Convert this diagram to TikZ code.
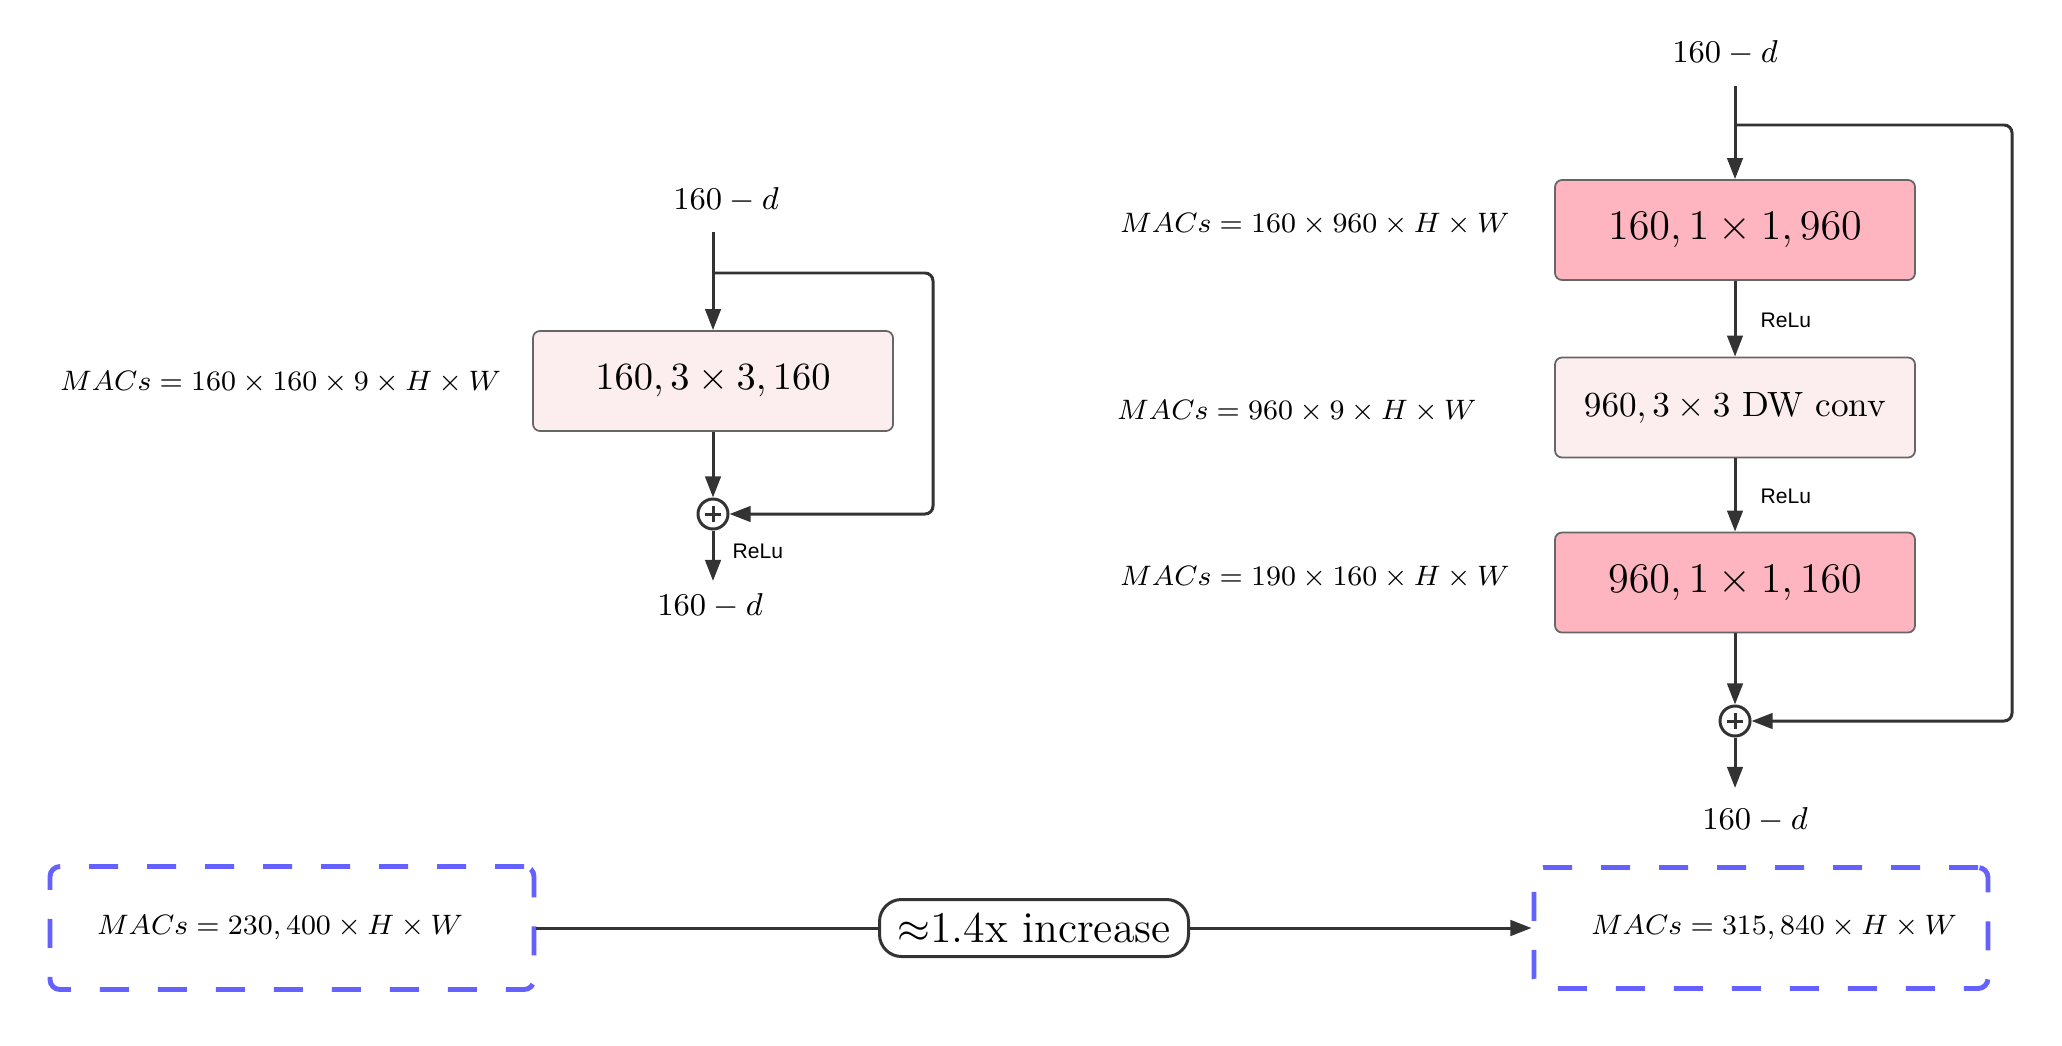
\documentclass[tikz,border=0pt]{standalone}
\usepackage{fontspec}
\setsansfont{Liberation Sans}
\usetikzlibrary{arrows.meta}
\definecolor{blockpink}{HTML}{FFB5C0}
\definecolor{blockpale}{HTML}{FCEEEE}
\definecolor{macsblue}{HTML}{6461FF}
\definecolor{linegray}{HTML}{333333}

\begin{document}
\begin{tikzpicture}

\tikzset{block/.style = {draw=gray!80!black, line width=0.5pt, rounded corners=2pt, minimum width=3.6cm, minimum height=1cm}}
\tikzset{edge/.style = {->, > = {Triangle[length=6pt,width=4.4pt]}, draw=linegray, line width=0.85pt}}
\tikzset{sumnode/.style = {circle, draw=linegray, line width=0.85pt, minimum size=0.3cm, inner sep=0pt,
  path picture={\draw[line width=0.85pt, linegray] ([xshift=-0.08cm]path picture bounding box.center) -- ([xshift=0.08cm]path picture bounding box.center)
  ([yshift=-0.08cm]path picture bounding box.center) -- ([yshift=0.08cm]path picture bounding box.center);}}}
\tikzset{dimtext/.style = {font=\fontsize{9}{11}\selectfont, inner sep=1pt}}
\tikzset{macs/.style = {font=\fontsize{8.5}{10}\selectfont, anchor=west, inner sep=1pt}}
\tikzset{relu/.style = {font=\sffamily\fontsize{6}{7}\selectfont, anchor=west, inner sep=0pt}}
\tikzset{total/.style = {draw=macsblue, line width=1.4pt, dash pattern=on 0.29cm off 0.29cm, rounded corners=0.1cm, font=\fontsize{8.5}{10}\selectfont}}
\tikzset{ratio/.style = {draw=linegray, fill=white, line width=0.85pt, rounded corners=0.22cm, minimum width=3.09cm, minimum height=0.57cm, inner sep=0pt, font=\fontsize{12.5}{14}\selectfont}}

\useasboundingbox (0,0) rectangle (20.62,-10.45);

% left block
\node[dimtext] (lin) at (7.26,-2.00) {$160-d$};
\coordinate (lstart) at (7.13,-2.32);
\coordinate (lsplit) at (7.13,-2.73);
\coordinate (lturn) at (9.33,-2.73);
\node[block, fill=blockpale, font=\fontsize{11}{13}\selectfont] (lconv) at (7.13,-3.81) {$160, 3\times3, 160$};
\node[macs] (lmacs) at (0.56,-3.82) {$MACs=160\times160\times9\times H\times W$};
\node[sumnode] (lsum) at (7.13,-5.14) {};
\node[relu] (lrelu) at (7.32,-5.51) {ReLu};
\coordinate (lend) at (7.13,-5.81);
\node[dimtext] (lout) at (7.10,-6.06) {$160-d$};

% right block
\node[dimtext] (rin) at (17.25,-0.53) {$160-d$};
\coordinate (rstart) at (17.35,-0.86);
\coordinate (rsplit) at (17.35,-1.25);
\coordinate (rturn) at (20.12,-1.25);
\node[block, fill=blockpink, font=\fontsize{12}{14}\selectfont] (rexpand) at (17.35,-2.30) {$160, 1\times1, 960$};
\node[block, fill=blockpale, font=\fontsize{10}{12}\selectfont] (rdw) at (17.35,-4.075) {$960, 3\times3$ DW conv};
\node[block, fill=blockpink, font=\fontsize{12}{14}\selectfont] (rproject) at (17.35,-5.825) {$960, 1\times1, 160$};
\node[macs] (rmacsa) at (11.16,-2.24) {$MACs=160\times960\times H\times W$};
\node[macs] (rmacsb) at (11.13,-4.11) {$MACs=960\times9\times H\times W$};
\node[macs] (rmacsc) at (11.16,-5.77) {$MACs=190\times160\times H\times W$};
\node[relu] (rrelua) at (17.60,-3.20) {ReLu};
\node[relu] (rrelub) at (17.60,-4.96) {ReLu};
\node[sumnode] (rsum) at (17.35,-7.21) {};
\coordinate (rend) at (17.35,-7.88);
\node[dimtext] (rout) at (17.55,-8.20) {$160-d$};

% totals
\node[total, minimum width=4.84cm, minimum height=1.23cm] (lbudget) at (2.92,-9.28) {$MACs=230,400\times H\times W$\hspace*{0.24cm}};
\node[total, minimum width=4.54cm, minimum height=1.21cm] (rbudget) at (17.61,-9.28) {\hspace*{0.26cm}$MACs=315,840\times H\times W$};

%edges
\draw[edge] (lstart) -- (lconv);
\draw[edge] (lconv) -- (lsum);
\draw[edge, rounded corners=0.08cm] (lsplit) -- (lturn) |- (lsum);
\draw[edge] (lsum) -- (lend);
\draw[edge] (rstart) -- (rexpand);
\draw[edge] (rexpand) -- (rdw);
\draw[edge] (rdw) -- (rproject);
\draw[edge] (rproject) -- (rsum);
\draw[edge, rounded corners=0.08cm] (rsplit) -- (rturn) |- (rsum);
\draw[edge] (rsum) -- (rend);
\draw[edge] (lbudget) -- (rbudget) node[ratio, midway] {$\approx$1.4x increase};

\end{tikzpicture}
\end{document}
